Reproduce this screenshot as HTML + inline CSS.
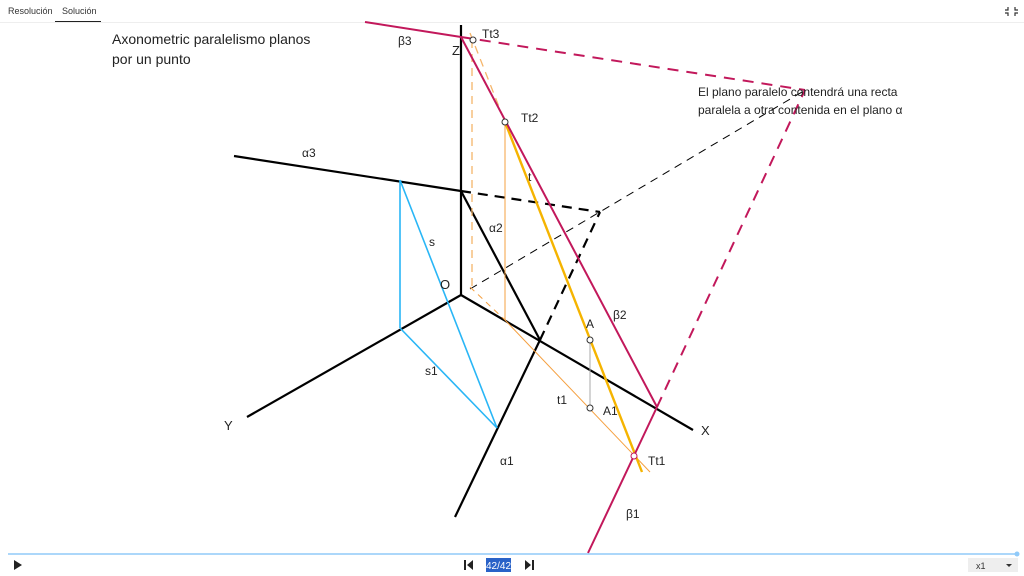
<!DOCTYPE html>
<html><head><meta charset="utf-8"><style>
body{margin:0;width:1024px;height:576px;overflow:hidden;background:#fff;font-family:"Liberation Sans",sans-serif;position:relative}
.tab{position:absolute;top:6px;font-size:9px;color:#333}
</style></head><body>
<div class="tab" style="left:8px">Resolución</div>
<div class="tab" style="left:62px">Solución</div>
<div style="position:absolute;left:55px;top:21px;width:46px;height:1px;background:#222"></div>
<div style="position:absolute;left:0;top:22px;width:1024px;height:1px;background:#eee"></div>
<svg width="1024" height="576" style="position:absolute;left:0;top:0" font-family="Liberation Sans, sans-serif">
<g fill="none">
<!-- axes -->
<line x1="461" y1="295" x2="461" y2="25" stroke="#000" stroke-width="2.2"/>
<line x1="461" y1="295" x2="693" y2="430" stroke="#000" stroke-width="2.2"/>
<line x1="461" y1="295" x2="247" y2="417" stroke="#000" stroke-width="2.2"/>
<!-- alpha -->
<line x1="234" y1="156" x2="461" y2="191" stroke="#000" stroke-width="2.2"/>
<line x1="461" y1="191" x2="600" y2="212" stroke="#000" stroke-width="2.2" stroke-dasharray="10,7"/>
<line x1="461" y1="191" x2="540" y2="340" stroke="#000" stroke-width="2.2"/>
<line x1="540" y1="340" x2="600" y2="212" stroke="#000" stroke-width="2.2" stroke-dasharray="10,7"/>
<line x1="540" y1="340" x2="455" y2="517" stroke="#000" stroke-width="2.2"/>
<line x1="470" y1="289" x2="802" y2="92" stroke="#000" stroke-width="1" stroke-dasharray="8,6"/>
<!-- blue -->
<line x1="400" y1="180" x2="497" y2="428" stroke="#29b6f6" stroke-width="1.6"/>
<line x1="400" y1="180" x2="400" y2="328" stroke="#29b6f6" stroke-width="1.6"/>
<line x1="400" y1="328" x2="497" y2="428" stroke="#29b6f6" stroke-width="1.6"/>
<!-- orange -->
<line x1="472" y1="40" x2="472" y2="290" stroke="#f5b56a" stroke-width="1.3" stroke-dasharray="8,6"/>
<line x1="470" y1="33" x2="505" y2="122" stroke="#f5b56a" stroke-width="1.3" stroke-dasharray="8,6"/>
<line x1="470" y1="287" x2="505" y2="320" stroke="#f5a040" stroke-width="1" stroke-dasharray="6,5"/>
<line x1="505" y1="320" x2="650" y2="472" stroke="#f5a040" stroke-width="1"/>
<line x1="505" y1="122" x2="505" y2="320" stroke="#f5a040" stroke-width="1"/>
<line x1="505" y1="122" x2="642" y2="472" stroke="#f5b400" stroke-width="2.4"/>
<line x1="590" y1="340" x2="590" y2="408" stroke="#aaa" stroke-width="1"/>
<!-- beta -->
<line x1="365" y1="22" x2="461" y2="37" stroke="#c2185b" stroke-width="2"/>
<line x1="461" y1="37" x2="805" y2="90" stroke="#c2185b" stroke-width="2" stroke-dasharray="11,8"/>
<line x1="461" y1="37" x2="657" y2="407" stroke="#c2185b" stroke-width="2"/>
<line x1="657" y1="407" x2="805" y2="90" stroke="#c2185b" stroke-width="2" stroke-dasharray="11,8"/>
<line x1="657" y1="407" x2="588" y2="553" stroke="#c2185b" stroke-width="2"/>
<!-- points -->
<g fill="#fff" stroke="#333" stroke-width="1">
<circle cx="473" cy="40" r="3"/><circle cx="505" cy="122" r="3"/>
<circle cx="590" cy="340" r="3"/><circle cx="590" cy="408" r="3"/>
<circle cx="634" cy="456" r="3" stroke="#c2185b"/>
</g>
</g>
<g font-size="12" fill="#222">
<text x="112" y="44" font-size="14">Axonometric paralelismo planos</text>
<text x="112" y="64" font-size="14">por un punto</text>
<text x="698" y="96">El plano paralelo contendrá una recta</text>
<text x="698" y="114">paralela a otra contenida en el plano α</text>
<text x="398" y="45">β3</text><text x="452" y="55" font-size="13">Z</text>
<text x="482" y="38">Tt3</text><text x="521" y="122">Tt2</text>
<text x="302" y="157">α3</text><text x="528" y="181">t</text>
<text x="489" y="232">α2</text><text x="429" y="246">s</text>
<text x="440" y="289" font-size="13">O</text>
<text x="613" y="319">β2</text><text x="586" y="328">A</text>
<text x="425" y="375">s1</text><text x="557" y="404">t1</text>
<text x="603" y="415">A1</text><text x="224" y="430" font-size="13">Y</text>
<text x="701" y="435" font-size="13">X</text>
<text x="500" y="465">α1</text><text x="648" y="465">Tt1</text>
<text x="626" y="518">β1</text>
</g>
<line x1="8" y1="554" x2="1017" y2="554" stroke="#90caf9" stroke-width="1.5"/>
<circle cx="1017" cy="554" r="2.5" fill="#90caf9"/>
<polygon points="14,560 14,570 22,565" fill="#222"/>
<rect x="464" y="560" width="2" height="10" fill="#222"/><polygon points="473,560 473,570 467,565" fill="#222"/>
<rect x="486" y="558" width="25" height="14" fill="#2962c8"/>
<text x="498.5" y="569" font-size="10" fill="#fff" text-anchor="middle">42/42</text>
<polygon points="525,560 525,570 531,565" fill="#222"/><rect x="532" y="560" width="2" height="10" fill="#222"/>
<rect x="968" y="558" width="50" height="14" fill="#eee"/>
<text x="976" y="569" font-size="9" fill="#333">x1</text>
<polygon points="1006,564 1012,564 1009,567" fill="#333"/>
<g stroke="#333" stroke-width="1.2" fill="none"><path d="M1008,7v3h-3M1015,7v3h3M1008,16v-3h-3M1015,16v-3h3"/></g>
</svg>
</body></html>
